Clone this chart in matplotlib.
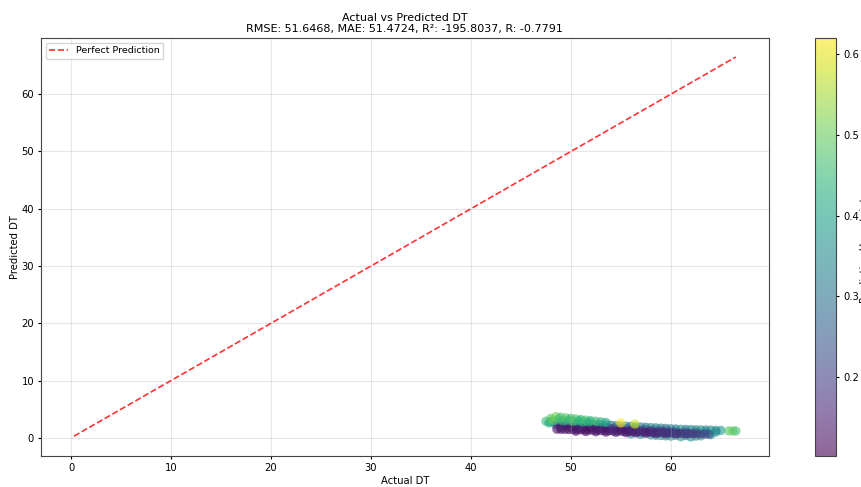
import matplotlib
matplotlib.use("Agg")
import matplotlib.pyplot as plt
import numpy as np

# ---- data ----
green_x = [47.5, 47.8, 48.0, 48.2, 48.5, 48.8, 49.0, 49.2, 49.5, 49.8, 50.0, 50.2, 50.5, 50.8, 51.0, 51.2,
           51.5, 51.8, 52.0, 52.5, 53.0, 53.5, 55.0, 56.4, 65.8, 66.2, 66.5]
green_y = [2.9, 2.6, 3.4, 3.1, 3.7, 3.3, 3.6, 3.0, 3.5, 3.1, 3.4, 2.9, 3.3, 3.0, 3.2, 2.8,
           3.1, 2.8, 3.0, 2.9, 2.8, 2.7, 2.6, 2.4, 1.2, 1.2, 1.2]
green_u = [0.46, 0.42, 0.48, 0.50, 0.51, 0.47, 0.47, 0.45, 0.49, 0.44, 0.46, 0.47, 0.48, 0.43, 0.45, 0.44,
           0.47, 0.42, 0.44, 0.46, 0.43, 0.41, 0.620, 0.58, 0.48, 0.50, 0.47]

teal_x = [48.0, 48.5, 49.0, 49.5, 50.0, 50.5, 51.0, 51.5, 52.0, 52.5, 53.0, 53.5, 54.0, 54.5, 55.0, 55.5,
          56.0, 56.5, 57.0, 57.5, 58.0, 58.5, 59.0, 59.5, 60.0, 60.5, 61.0, 61.5, 62.0, 62.5, 63.0, 63.5,
          64.0, 64.5, 65.0,
          48.5, 49.5, 50.5, 51.5, 52.5, 53.5, 54.5, 55.5, 56.5, 57.5, 58.5, 59.5, 60.5, 61.5, 62.5, 63.5, 64.5]
teal_y = [2.8, 2.75, 2.7, 2.65, 2.6, 2.55, 2.5, 2.45, 2.4, 2.35, 2.3, 2.25, 2.2, 2.15, 2.1, 2.05,
          2.0, 1.95, 1.9, 1.85, 1.8, 1.75, 1.7, 1.65, 1.6, 1.55, 1.5, 1.47, 1.45, 1.42, 1.4, 1.37,
          1.35, 1.32, 1.3,
          2.3, 2.2, 2.1, 2.0, 1.9, 1.8, 1.7, 1.6, 1.5, 1.4, 1.3, 1.2, 1.1, 1.0, 1.0, 1.0, 1.0]
teal_u = [0.36, 0.33, 0.38, 0.32, 0.35, 0.31, 0.37, 0.33, 0.30, 0.36, 0.32, 0.34, 0.30, 0.35, 0.31, 0.33,
          0.29, 0.34, 0.32, 0.30, 0.35, 0.31, 0.33, 0.29, 0.34, 0.32, 0.36, 0.30, 0.35, 0.33, 0.37, 0.34,
          0.36, 0.35, 0.38,
          0.28, 0.26, 0.29, 0.25, 0.27, 0.28, 0.24, 0.26, 0.29, 0.27, 0.30, 0.28, 0.31, 0.29, 0.32, 0.33, 0.34]

dark_x = [48.6, 49.0, 49.4, 49.8, 50.2, 50.6, 51.0, 51.4, 51.8, 52.2, 52.6, 53.0, 53.4, 53.8, 54.2, 54.6,
          55.0, 55.4, 55.8, 56.2, 56.6, 57.0, 57.4, 57.8, 58.2, 58.6, 59.0, 59.4, 59.8, 60.2, 60.6, 61.0,
          61.4, 61.8, 62.2, 62.6, 63.0, 63.4, 63.8,
          49.0, 50.0, 51.0, 52.0, 53.0, 54.0, 55.0, 56.0, 57.0, 58.0, 59.0, 60.0,
          50.5, 51.5, 52.5, 53.5, 54.5, 55.5, 56.5, 57.5, 58.5, 59.5, 60.5, 61.5]
dark_y = [1.5, 1.5, 1.48, 1.46, 1.45, 1.43, 1.4, 1.38, 1.35, 1.33, 1.3, 1.28, 1.25, 1.23, 1.2, 1.18,
          1.15, 1.13, 1.1, 1.08, 1.05, 1.03, 1.0, 0.98, 0.95, 0.93, 0.9, 0.88, 0.85, 0.83, 0.8, 0.78,
          0.75, 0.73, 0.7, 0.68, 0.65, 0.63, 0.6,
          1.9, 1.85, 1.8, 1.75, 1.7, 1.6, 1.5, 1.4, 1.3, 1.25, 1.2, 1.1,
          1.15, 1.1, 1.05, 1.0, 0.95, 0.9, 0.85, 0.8, 0.75, 0.7, 0.65, 0.6]
dark_u = [0.12, 0.102, 0.13, 0.11, 0.14, 0.12, 0.11, 0.13, 0.12, 0.15, 0.11, 0.12, 0.14, 0.11, 0.13, 0.12,
          0.11, 0.14, 0.12, 0.13, 0.11, 0.15, 0.12, 0.13, 0.14, 0.12, 0.16, 0.13, 0.15, 0.14, 0.17, 0.15,
          0.18, 0.16, 0.19, 0.18, 0.20, 0.21, 0.22,
          0.15, 0.14, 0.16, 0.13, 0.15, 0.17, 0.14, 0.16, 0.18, 0.17, 0.19, 0.20,
          0.13, 0.12, 0.14, 0.13, 0.15, 0.14, 0.16, 0.15, 0.17, 0.18, 0.19, 0.21]

bottom_x = [56.0, 57.0, 58.0, 58.5, 59.0, 59.5, 60.0, 60.5, 61.0, 61.5, 62.0, 62.5, 63.0, 64.0]
bottom_y = [0.7, 0.6, 0.5, 0.45, 0.4, 0.35, 0.3, 0.45, 0.2, 0.4, 0.15, 0.3, 0.35, 0.55]
bottom_u = [0.33, 0.35, 0.36, 0.34, 0.37, 0.35, 0.38, 0.36, 0.37, 0.39, 0.36, 0.38, 0.40, 0.37]

line_min, line_max = 0.3, 66.5

title_text = "Actual vs Predicted DT\nRMSE: 51.6468, MAE: 51.4724, R\u00b2: -195.8037, R: -0.7791"

# ---- plot ----
actual = np.array(teal_x + bottom_x + dark_x + green_x)
predicted = np.array(teal_y + bottom_y + dark_y + green_y)
uncert = np.array(teal_u + bottom_u + dark_u + green_u)

plt.rcParams['font.size'] = 7.2
fig = plt.figure(figsize=(8.62, 4.87), dpi=100)
ax = fig.add_axes([0.0475, 0.0637, 0.8445, 0.8583])
cax = fig.add_axes([0.9455, 0.0637, 0.0245, 0.8583])

sc = ax.scatter(actual, predicted, c=uncert, cmap='viridis', alpha=0.6, s=45, linewidths=0)
ax.plot([line_min, line_max], [line_min, line_max], 'r--', alpha=0.8, lw=1.2, label='Perfect Prediction')
ax.set_xlabel('Actual DT', fontsize=7.2, labelpad=2)
ax.set_ylabel('Predicted DT', fontsize=7.2, labelpad=1)
ax.set_title(title_text, fontsize=8.0, pad=4)
ax.grid(True, alpha=0.3)
ax.legend(loc='upper left', fontsize=6.8)
ax.tick_params(labelsize=7.2, length=2.5, pad=2.5)
for sp in ax.spines.values():
    sp.set_color('#444444')

cb = fig.colorbar(sc, cax=cax)
cb.set_label('Prediction Uncertainty', fontsize=7.2, labelpad=1)
cb.ax.tick_params(labelsize=7.2, length=2.5, pad=2.5)
cb.outline.set_edgecolor('#444444')

fig.savefig('out.png', dpi=100)
